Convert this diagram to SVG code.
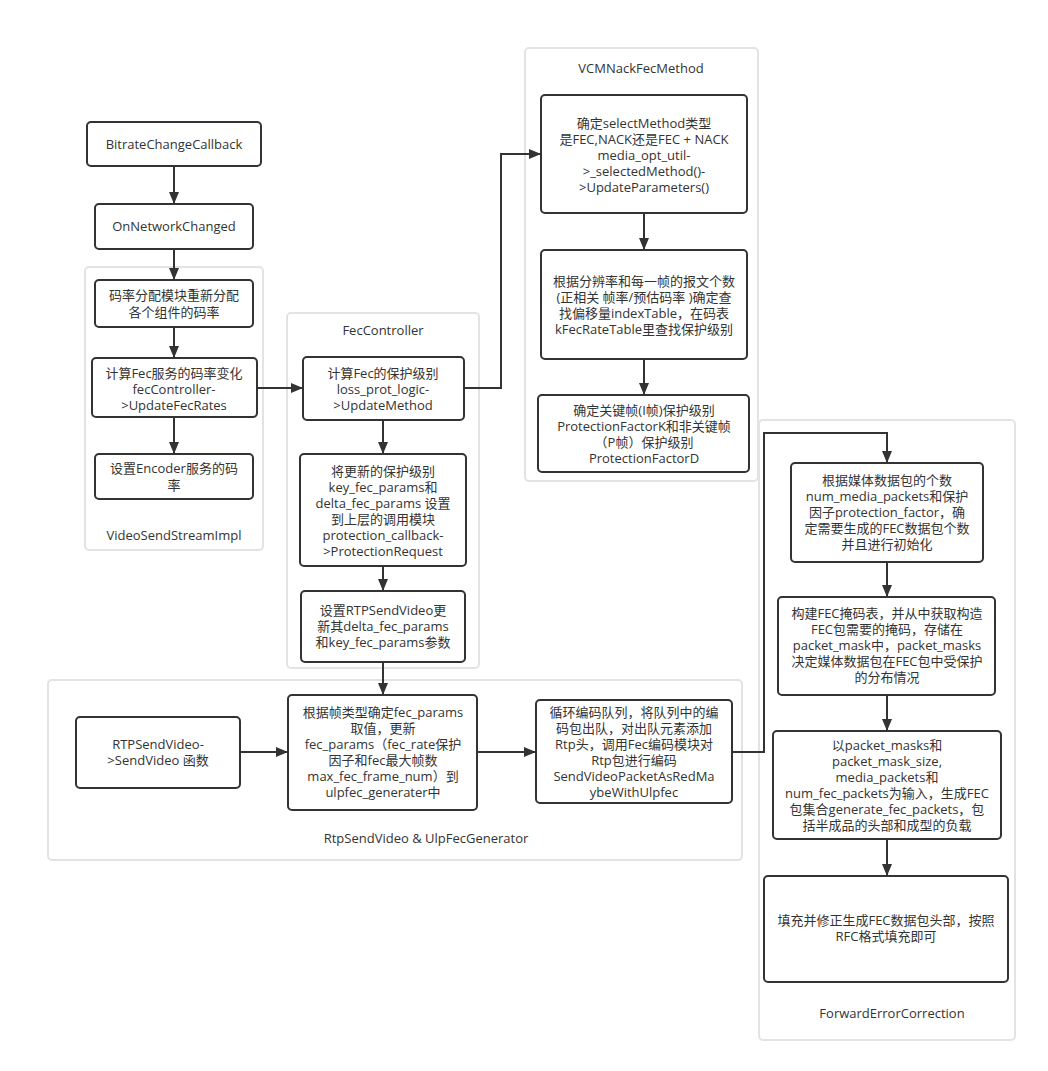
<svg xmlns="http://www.w3.org/2000/svg" width="1048" height="1071" viewBox="0 0 1048 1071">
<style>
.bg{fill:#fff}
.grp{fill:#fff;stroke:#e3e3e3;stroke-width:2}
.nd{fill:#fff;stroke:#333;stroke-width:2}
text{font-family:"Open Sans","Noto Sans CJK SC",sans-serif;font-size:13px;fill:#333;text-anchor:middle}
.cn{fill:none;stroke:#333;stroke-width:2}
</style>
<defs>
<marker id="ah" markerUnits="userSpaceOnUse" markerWidth="12" markerHeight="10" refX="12" refY="5" orient="auto">
<path d="M0,0 L12,5 L0,10 z" fill="#333"/>
</marker>
</defs>
<rect class="bg" x="0" y="0" width="1048" height="1071"/>

<g id="group-VideoSendStreamImpl">
<rect class="grp" x="85" y="267" width="178" height="283" rx="4"/>
<text x="174" y="540">VideoSendStreamImpl</text>
</g>
<g id="group-FecController">
<rect class="grp" x="287" y="313" width="192" height="355" rx="4"/>
<text x="383" y="335">FecController</text>
</g>
<g id="group-VCMNackFecMethod">
<rect class="grp" x="525" y="48" width="233" height="433" rx="4"/>
<text x="641" y="73">VCMNackFecMethod</text>
</g>
<g id="group-ForwardErrorCorrection">
<rect class="grp" x="759" y="420" width="256" height="620" rx="4"/>
<text x="892" y="1018">ForwardErrorCorrection</text>
</g>
<g id="group-RtpSendVideo">
<rect class="grp" x="48" y="680" width="694" height="180" rx="4"/>
<text x="426" y="843">RtpSendVideo &amp; UlpFecGenerator</text>
</g>

<g id="n-bitrate">
<rect class="nd" x="87" y="122" width="174" height="44" rx="4"/>
<text x="174" y="149">BitrateChangeCallback</text>
</g>
<g id="n-onnetwork">
<rect class="nd" x="95" y="204" width="158" height="45" rx="4"/>
<text x="174" y="231">OnNetworkChanged</text>
</g>
<g id="n-realloc">
<rect class="nd" x="95" y="280" width="158" height="47" rx="4"/>
<text x="174" y="300">码率分配模块重新分配</text>
<text x="174" y="317">各个组件的码率</text>
</g>
<g id="n-updatefecrates">
<rect class="nd" x="92" y="358" width="165" height="59" rx="4"/>
<text x="174" y="378">计算Fec服务的码率变化</text>
<text x="174" y="394">fecController-</text>
<text x="174" y="410">&gt;UpdateFecRates</text>
</g>
<g id="n-encoder">
<rect class="nd" x="95" y="454" width="158" height="45" rx="4"/>
<text x="174" y="473">设置Encoder服务的码</text>
<text x="174" y="490">率</text>
</g>

<g id="n-updatemethod">
<rect class="nd" x="303" y="357" width="161" height="63" rx="4"/>
<text x="383" y="378">计算Fec的保护级别</text>
<text x="383" y="394">loss_prot_logic-</text>
<text x="383" y="410">&gt;UpdateMethod</text>
</g>
<g id="n-protreq">
<rect class="nd" x="300" y="454" width="166" height="112" rx="4"/>
<text x="383" y="476">将更新的保护级别</text>
<text x="383" y="492">key_fec_params和</text>
<text x="383" y="508">delta_fec_params 设置</text>
<text x="383" y="524">到上层的调用模块</text>
<text x="383" y="540">protection_callback-</text>
<text x="383" y="556">&gt;ProtectionRequest</text>
</g>
<g id="n-setrtp">
<rect class="nd" x="301" y="591" width="164" height="71" rx="4"/>
<text x="383" y="615">设置RTPSendVideo更</text>
<text x="383" y="631">新其delta_fec_params</text>
<text x="383" y="647">和key_fec_params参数</text>
</g>

<g id="n-selectmethod">
<rect class="nd" x="541" y="95" width="206" height="118" rx="4"/>
<text x="644" y="128">确定selectMethod类型</text>
<text x="644" y="144">是FEC,NACK还是FEC + NACK</text>
<text x="644" y="160">media_opt_util-</text>
<text x="644" y="176">&gt;_selectedMethod()-</text>
<text x="644" y="192">&gt;UpdateParameters()</text>
</g>
<g id="n-table">
<rect class="nd" x="541" y="250" width="206" height="109" rx="4"/>
<text x="644" y="286">根据分辨率和每一帧的报文个数</text>
<text x="644" y="302">(正相关 帧率/预估码率 )确定查</text>
<text x="644" y="318">找偏移量indexTable，在码表</text>
<text x="644" y="334">kFecRateTable里查找保护级别</text>
</g>
<g id="n-factor">
<rect class="nd" x="538" y="395" width="211" height="77" rx="4"/>
<text x="644" y="415">确定关键帧(I帧)保护级别</text>
<text x="644" y="431">ProtectionFactorK和非关键帧</text>
<text x="644" y="447">（P帧）保护级别</text>
<text x="644" y="463">ProtectionFactorD</text>
</g>

<g id="n-fec-init">
<rect class="nd" x="791" y="463" width="192" height="99" rx="4"/>
<text x="887" y="485">根据媒体数据包的个数</text>
<text x="887" y="501">num_media_packets和保护</text>
<text x="887" y="517">因子protection_factor，确</text>
<text x="887" y="533">定需要生成的FEC数据包个数</text>
<text x="887" y="549">并且进行初始化</text>
</g>
<g id="n-fec-mask">
<rect class="nd" x="778" y="597" width="217" height="98" rx="4"/>
<text x="887" y="618">构建FEC掩码表，并从中获取构造</text>
<text x="887" y="634">FEC包需要的掩码，存储在</text>
<text x="887" y="650">packet_mask中，packet_masks</text>
<text x="887" y="666">决定媒体数据包在FEC包中受保护</text>
<text x="887" y="682">的分布情况</text>
</g>
<g id="n-fec-gen">
<rect class="nd" x="773" y="731" width="228" height="108" rx="4"/>
<text x="887" y="750">以packet_masks和</text>
<text x="887" y="766">packet_mask_size,</text>
<text x="887" y="782">media_packets和</text>
<text x="887" y="798">num_fec_packets为输入，生成FEC</text>
<text x="887" y="814">包集合generate_fec_packets，包</text>
<text x="887" y="830">括半成品的头部和成型的负载</text>
</g>
<g id="n-fec-header">
<rect class="nd" x="764" y="876" width="244" height="106" rx="4"/>
<text x="886" y="925">填充并修正生成FEC数据包头部，按照</text>
<text x="886" y="941">RFC格式填充即可</text>
</g>

<g id="n-sendvideo">
<rect class="nd" x="76" y="717" width="164" height="71" rx="4"/>
<text x="158" y="749">RTPSendVideo-</text>
<text x="158" y="765">&gt;SendVideo 函数</text>
</g>
<g id="n-fecparams">
<rect class="nd" x="288" y="695" width="189" height="115" rx="4"/>
<text x="383" y="717">根据帧类型确定fec_params</text>
<text x="383" y="733">取值，更新</text>
<text x="383" y="749">fec_params（fec_rate保护</text>
<text x="383" y="765">因子和fec最大帧数</text>
<text x="383" y="781">max_fec_frame_num）到</text>
<text x="383" y="797">ulpfec_generater中</text>
</g>
<g id="n-encodeloop">
<rect class="nd" x="536" y="700" width="196" height="103" rx="4"/>
<text x="634" y="717">循环编码队列，将队列中的编</text>
<text x="634" y="733">码包出队，对出队元素添加</text>
<text x="634" y="749">Rtp头，调用Fec编码模块对</text>
<text x="634" y="765">Rtp包进行编码</text>
<text x="634" y="781">SendVideoPacketAsRedMa</text>
<text x="634" y="797">ybeWithUlpfec</text>
</g>

<g id="connectors">
<path class="cn" marker-end="url(#ah)" d="M174,167 L174,204"/>
<path class="cn" marker-end="url(#ah)" d="M174,249 L174,280"/>
<path class="cn" marker-end="url(#ah)" d="M174,327 L174,358"/>
<path class="cn" marker-end="url(#ah)" d="M174,417 L174,454"/>
<path class="cn" marker-end="url(#ah)" d="M257,388 L303,388"/>
<path class="cn" marker-end="url(#ah)" d="M464,388 L501,388 L501,154 L541,154"/>
<path class="cn" marker-end="url(#ah)" d="M644,213 L644,250"/>
<path class="cn" marker-end="url(#ah)" d="M644,359 L644,395"/>
<path class="cn" marker-end="url(#ah)" d="M383,420 L383,454"/>
<path class="cn" marker-end="url(#ah)" d="M383,566 L383,591"/>
<path class="cn" marker-end="url(#ah)" d="M383,662 L383,695"/>
<path class="cn" marker-end="url(#ah)" d="M240,752 L288,752"/>
<path class="cn" marker-end="url(#ah)" d="M477,752 L536,752"/>
<path class="cn" marker-end="url(#ah)" d="M732,752 L764,752 L764,433 L887,433 L887,463"/>
<path class="cn" marker-end="url(#ah)" d="M887,562 L887,597"/>
<path class="cn" marker-end="url(#ah)" d="M887,695 L887,731"/>
<path class="cn" marker-end="url(#ah)" d="M887,839 L887,876"/>
</g>
</svg>
